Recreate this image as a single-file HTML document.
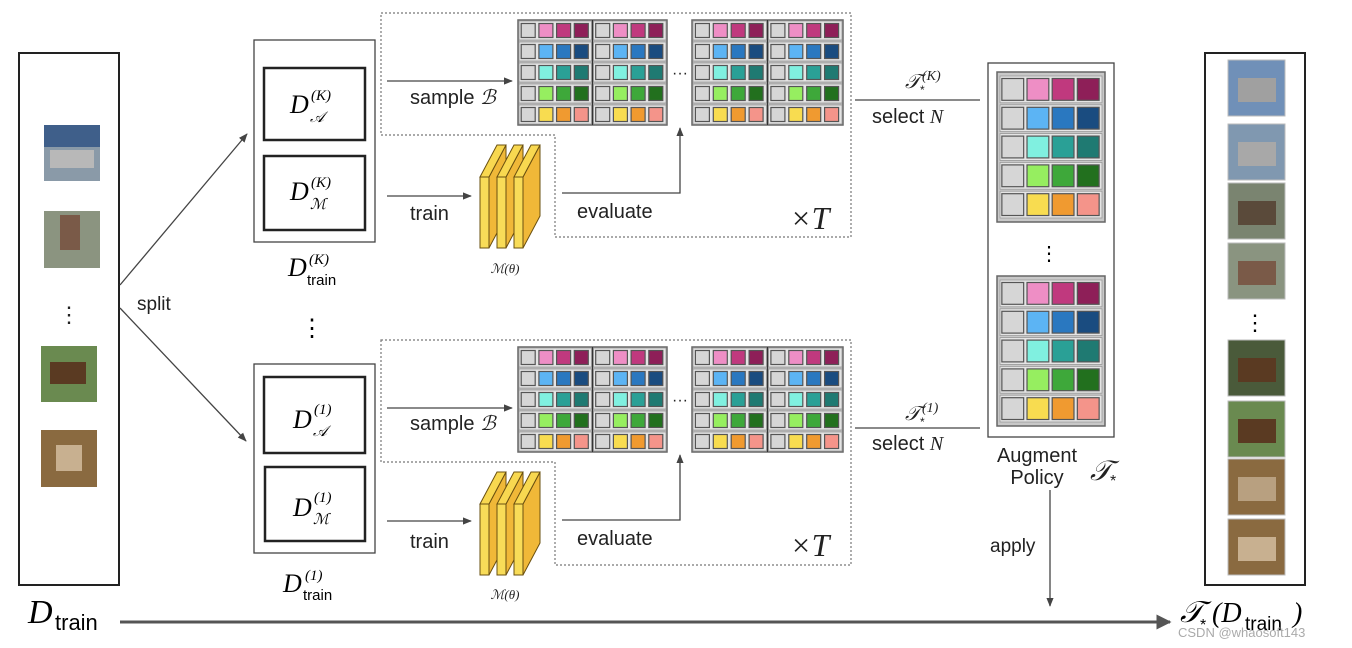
<!DOCTYPE html>
<html><head><meta charset="utf-8">
<style>
html,body{margin:0;padding:0;background:#fff;}
svg{display:block;font-family:"Liberation Sans",sans-serif;}
.m{font-family:"Liberation Serif",serif;font-style:italic;}
</style></head><body>
<svg id="s" width="1352" height="648" viewBox="0 0 1352 648" xmlns="http://www.w3.org/2000/svg">
<defs>
<marker id="a" viewBox="0 0 10 10" refX="9" refY="5" markerWidth="7" markerHeight="7" orient="auto"><path d="M0,1 L10,5 L0,9 z" fill="#444"/></marker>
<marker id="b" viewBox="0 0 10 10" refX="9" refY="5" markerWidth="5" markerHeight="5" orient="auto"><path d="M0,0 L10,5 L0,10 z" fill="#555"/></marker>
</defs>
<rect width="1352" height="648" fill="#fff"/>
<rect x="19" y="53" width="100" height="532" fill="none" stroke="#222" stroke-width="2"/>
<rect x="44" y="125" width="56" height="56" fill="#8a9aa8"/><rect x="44" y="125" width="56" height="22" fill="#3f5f8a"/><rect x="50" y="150" width="44" height="18" fill="#b8b8b8"/>
<rect x="44" y="211" width="56" height="57" fill="#8b9480"/><rect x="60" y="215" width="20" height="35" fill="#7a5a48"/>
<rect x="41" y="346" width="56" height="56" fill="#6a8a50"/><rect x="50" y="362" width="36" height="22" fill="#5a3a22"/>
<rect x="41" y="430" width="56" height="57" fill="#8a6a40"/><rect x="56" y="445" width="26" height="26" fill="#c8b090"/>
<text x="69" y="322" font-size="22" text-anchor="middle" fill="#222">⋮</text>
<text x="28" y="623" class="m" font-size="34">D</text><text x="55" y="630" font-size="22">train</text>
<line x1="120" y1="622" x2="1170" y2="622" stroke="#555" stroke-width="3" marker-end="url(#b)"/>
<line x1="120" y1="285" x2="247" y2="134" stroke="#444" stroke-width="1.3" marker-end="url(#a)"/>
<line x1="120" y1="308" x2="246" y2="441" stroke="#444" stroke-width="1.3" marker-end="url(#a)"/>
<text x="137" y="310" font-size="19" fill="#222">split</text>
<rect x="254" y="40" width="121" height="202" fill="none" stroke="#444" stroke-width="1.3"/>
<rect x="264" y="68" width="101" height="72" fill="none" stroke="#222" stroke-width="2.5"/>
<rect x="264" y="156" width="101" height="74" fill="none" stroke="#222" stroke-width="2.5"/>
<text x="290" y="113" class="m" font-size="26">D</text><text x="311" y="100" class="m" font-size="15">(K)</text><text x="310" y="122" class="m" font-size="15">𝒜</text>
<text x="290" y="200" class="m" font-size="26">D</text><text x="311" y="187" class="m" font-size="15">(K)</text><text x="310" y="209" class="m" font-size="15">ℳ</text>
<text x="288" y="276" class="m" font-size="26">D</text><text x="309" y="264" class="m" font-size="15">(K)</text><text x="307" y="285" font-size="15">train</text>
<text x="312" y="336" font-size="24" text-anchor="middle">⋮</text>
<rect x="254" y="364" width="121" height="189" fill="none" stroke="#444" stroke-width="1.3"/>
<rect x="264" y="377" width="101" height="76" fill="none" stroke="#222" stroke-width="2.5"/>
<rect x="265" y="467" width="100" height="74" fill="none" stroke="#222" stroke-width="2.5"/>
<text x="293" y="428" class="m" font-size="26">D</text><text x="314" y="414" class="m" font-size="15">(1)</text><text x="313" y="436" class="m" font-size="15">𝒜</text>
<text x="293" y="516" class="m" font-size="26">D</text><text x="314" y="502" class="m" font-size="15">(1)</text><text x="313" y="524" class="m" font-size="15">ℳ</text>
<text x="283" y="592" class="m" font-size="26">D</text><text x="305" y="580" class="m" font-size="15">(1)</text><text x="303" y="600" font-size="15">train</text>
<path d="M381,13 H851 V237 H555 V135 H381 Z" fill="none" stroke="#777" stroke-width="1.2" stroke-dasharray="2,2"/>
<path d="M381,340 H851 V565 H555 V462 H381 Z" fill="none" stroke="#777" stroke-width="1.2" stroke-dasharray="2,2"/>
<g fill="#222" font-size="20">
<line x1="387" y1="81" x2="512" y2="81" stroke="#444" stroke-width="1.3" marker-end="url(#a)"/>
<text x="410" y="104">sample <tspan class="m">ℬ</tspan></text>
<line x1="387" y1="196" x2="471" y2="196" stroke="#444" stroke-width="1.3" marker-end="url(#a)"/>
<text x="410" y="220">train</text>
<path d="M562,193 H680 V128" fill="none" stroke="#444" stroke-width="1.3" marker-end="url(#a)"/>
<text x="577" y="218">evaluate</text>
<text x="790" y="229" class="m" font-size="32" font-style="normal">×<tspan font-style="italic">T</tspan></text>
<text x="505" y="273" class="m" font-size="13" text-anchor="middle">ℳ(θ)</text>
<line x1="387" y1="408" x2="512" y2="408" stroke="#444" stroke-width="1.3" marker-end="url(#a)"/>
<text x="410" y="430">sample <tspan class="m">ℬ</tspan></text>
<line x1="387" y1="521" x2="471" y2="521" stroke="#444" stroke-width="1.3" marker-end="url(#a)"/>
<text x="410" y="548">train</text>
<path d="M562,520 H680 V455" fill="none" stroke="#444" stroke-width="1.3" marker-end="url(#a)"/>
<text x="577" y="545">evaluate</text>
<text x="790" y="556" class="m" font-size="32" font-style="normal">×<tspan font-style="italic">T</tspan></text>
<text x="505" y="599" class="m" font-size="13" text-anchor="middle">ℳ(θ)</text>
<text x="680" y="78" font-size="16" text-anchor="middle">···</text>
<text x="680" y="405" font-size="16" text-anchor="middle">···</text>
<text x="905" y="88" class="m" font-size="20">𝒯</text><text x="920" y="94" font-size="12">*</text><text x="922" y="80" class="m" font-size="14">(K)</text>
<line x1="855" y1="100" x2="980" y2="100" stroke="#444" stroke-width="1.3"/>
<text x="872" y="123">select <tspan class="m">N</tspan></text>
<text x="905" y="420" class="m" font-size="20">𝒯</text><text x="920" y="426" font-size="12">*</text><text x="922" y="412" class="m" font-size="14">(1)</text>
<line x1="855" y1="428" x2="980" y2="428" stroke="#444" stroke-width="1.3"/>
<text x="872" y="450">select <tspan class="m">N</tspan></text>
<text x="1037" y="462" text-anchor="middle">Augment</text>
<text x="1037" y="484" text-anchor="middle">Policy</text>
<text x="1090" y="480" class="m" font-size="28">𝒯</text><text x="1110" y="486" font-size="16">*</text>
<text x="990" y="552" font-size="19">apply</text>
<line x1="1050" y1="490" x2="1050" y2="606" stroke="#444" stroke-width="1.3" marker-end="url(#a)"/>
</g>
<rect x="988" y="63" width="126" height="374" fill="none" stroke="#444" stroke-width="1.3"/>
<text x="1049" y="260" font-size="20" text-anchor="middle">⋮</text>
<rect x="1205" y="53" width="100" height="532" fill="none" stroke="#222" stroke-width="2"/>
<g id="rimgs"></g>
<text x="1255" y="330" font-size="22" text-anchor="middle">⋮</text>
<text x="1180" y="622" class="m" font-size="30">𝒯</text><text x="1200" y="630" font-size="16">*</text><text x="1212" y="622" class="m" font-size="28">(D</text><text x="1245" y="630" font-size="19">train</text><text x="1293" y="622" class="m" font-size="28">)</text>
<text x="1178" y="637" font-size="13" fill="#aaa">CSDN @whaosoft143</text>
<g id="dyn"></g>
</svg>
<script>
var NS="http://www.w3.org/2000/svg",g=document.getElementById("dyn");
function el(t,a,p){var e=document.createElementNS(NS,t);for(var k in a)e.setAttribute(k,a[k]);(p||g).appendChild(e);return e;}
var rows=[["#d6d6d6","#ee8ec5","#c0397e","#8e1f58"],["#d6d6d6","#5cb4f4","#2a78c0","#1a4c80"],["#d6d6d6","#80f0e0","#2aa096","#1f7a72"],["#d6d6d6","#96ee60","#3ea83a","#22701e"],["#d6d6d6","#f8dc50","#f09a30","#f4948a"]];
function half(x,y,w,h){
 var rh=h/5;
 for(var r=0;r<5;r++){
  el("rect",{x:x+1,y:y+r*rh+1,width:w-2,height:rh-2,fill:"#e4e4e4",stroke:"#999","stroke-width":0.8});
  var sq=rh-7,gap=(w-4*sq)/5;
  for(var c=0;c<4;c++)el("rect",{x:x+gap+c*(sq+gap)-0.5,y:y+r*rh+3.5,width:sq,height:sq,fill:rows[r][c],stroke:"#555","stroke-width":1.2});
 }
}
function block(x,y,w,h){el("rect",{x:x,y:y,width:w,height:h,fill:"#bcbcbc",stroke:"#666","stroke-width":1.5});half(x,y,w/2,h);half(x+w/2,y,w/2,h);el("line",{x1:x+w/2,y1:y,x2:x+w/2,y2:y+h,stroke:"#333","stroke-width":1.2});}
[20,347].forEach(function(y){block(518,y,149,105);block(692,y,151,105);});
function pol(x,y,h){el("rect",{x:x,y:y,width:108,height:h,fill:"#c8c8c8",stroke:"#666","stroke-width":1.5});half(x+2,y+3,104,h-6);}
pol(997,72,150);pol(997,276,150);
function slabs(x,y0){for(var i=0;i<3;i++){var X=x+i*17,h=71,dx=17,dy=32;
 el("polygon",{points:[X+9,y0,X+9+dx,y0-dy,X+9+dx,y0+h-dy,X+9,y0+h].join(","),fill:"#f0b838",stroke:"#6a5010","stroke-width":1});
 el("polygon",{points:[X,y0,X+dx,y0-dy,X+9+dx,y0-dy,X+9,y0].join(","),fill:"#f8d850",stroke:"#6a5010","stroke-width":1});
 el("rect",{x:X,y:y0,width:9,height:h,fill:"#f8dc58",stroke:"#6a5010","stroke-width":1});}}
slabs(480,177);slabs(480,504);
var ri=document.getElementById("rimgs");
[[60,"#7090b8","#a0a0a0"],[124,"#8098b0","#a8a8a8"],[183,"#7a8470","#5a4a3a"],[243,"#8a9480","#7a5a48"],[340,"#4a5a3a","#5a3a22"],[401,"#6a8a50","#5a3a22"],[459,"#8a6a40","#b8a080"],[519,"#8a6a40","#c8b090"]].forEach(function(d){
 el("rect",{x:1228,y:d[0],width:57,height:56,fill:d[1],stroke:"#bbb"},ri);
 el("rect",{x:1238,y:d[0]+18,width:38,height:24,fill:d[2]},ri);});
</script>
</body></html>
